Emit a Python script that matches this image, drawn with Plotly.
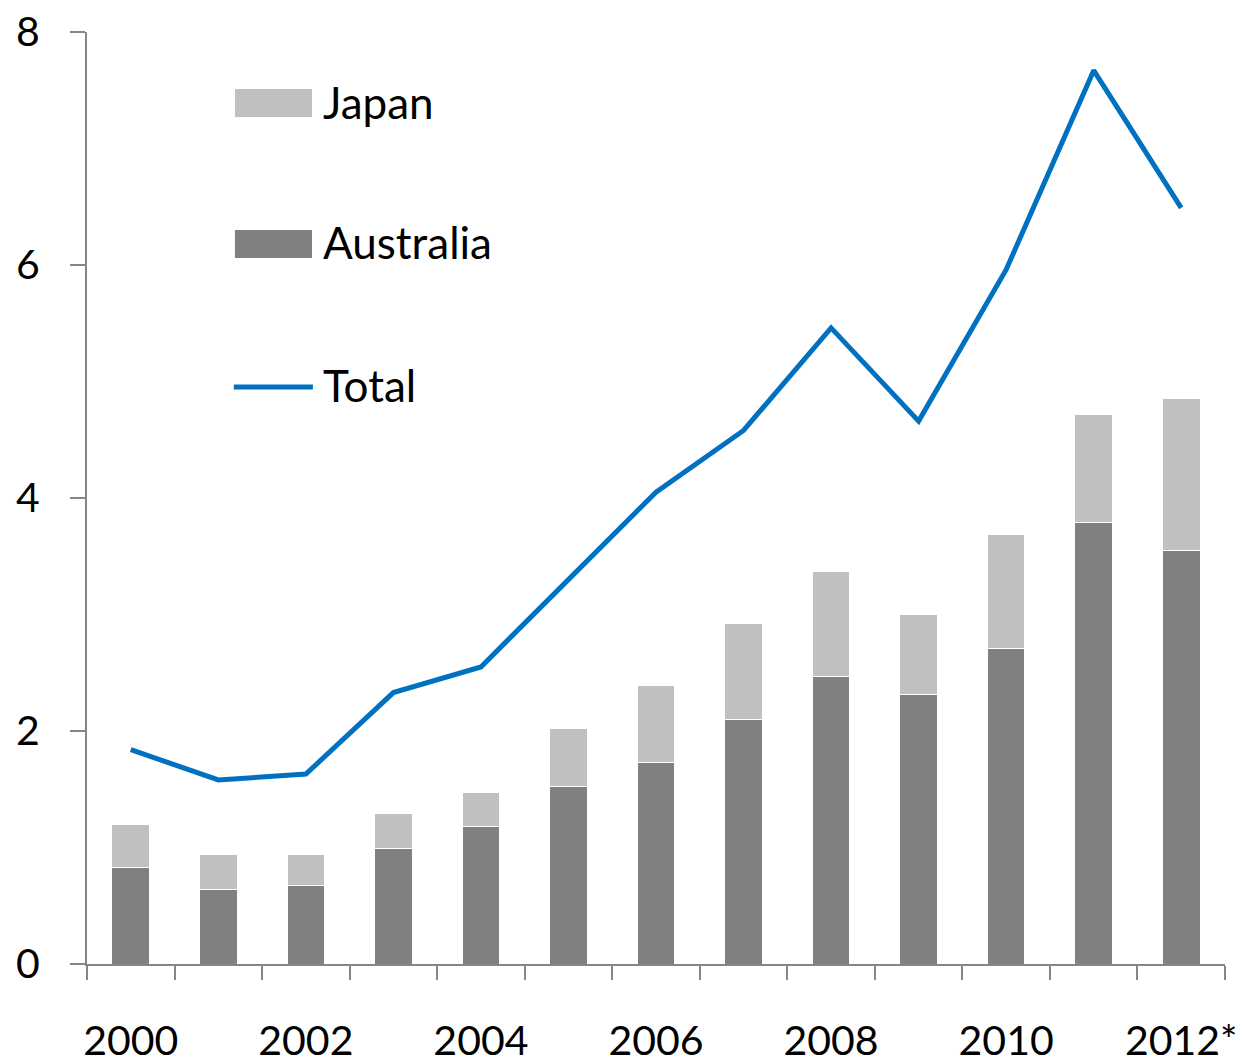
import plotly.graph_objects as go

# Years on the category axis (index positions 0..12)
years = ["2000", "2001", "2002", "2003", "2004", "2005", "2006",
         "2007", "2008", "2009", "2010", "2011", "2012*"]
label_years = ["2000", "2002", "2004", "2006", "2008", "2010", "2012*"]

# Series values
australia = [0.83, 0.64, 0.67, 0.99, 1.18, 1.52, 1.73, 2.10, 2.47, 2.31, 2.71, 3.79, 3.55]
japan = [0.37, 0.30, 0.27, 0.30, 0.29, 0.50, 0.66, 0.82, 0.90, 0.69, 0.98, 0.93, 1.30]
total = [1.84, 1.58, 1.63, 2.33, 2.55, 3.30, 4.05, 4.58, 5.46, 4.66, 5.96, 7.67, 6.49]

y_ticks = [0, 2, 4, 6, 8]

AUS_COLOR = "#808080"
JPN_COLOR = "#C0C0C0"
TOTAL_COLOR = "#0070C0"
AXIS_COLOR = "#868686"
FONT = "Lato"
FSIZE = 41
LEGEND_FSIZE = 44

x = list(range(len(years)))
label_pos = [years.index(y) for y in label_years]
boundaries = [i - 0.5 for i in range(len(years) + 1)]

fig = go.Figure()
fig.add_trace(go.Bar(x=x, y=australia, name="Australia", width=0.43,
                     marker=dict(color=AUS_COLOR, line=dict(color="white", width=1)),
                     showlegend=False))
fig.add_trace(go.Bar(x=x, y=japan, name="Japan", width=0.43,
                     marker=dict(color=JPN_COLOR, line=dict(color="white", width=1)),
                     showlegend=False))
fig.add_trace(go.Scatter(x=x, y=total, name="Total", mode="lines",
                         line=dict(color=TOTAL_COLOR, width=5),
                         showlegend=False))

# Hand-drawn legend block in the upper-left of the plot area
legend_items = [
    ("Japan", "bar", JPN_COLOR, 0.9238, 0.9254),
    ("Australia", "bar", AUS_COLOR, 0.7726, 0.7747),
    ("Total", "line", TOTAL_COLOR, 0.6191, 0.6212),
]
shapes = []
annotations = []
for name, kind, color, ys, yt in legend_items:
    if kind == "bar":
        shapes.append(dict(type="rect", xref="paper", yref="paper",
                           x0=0.130, x1=0.1977, y0=ys - 0.015, y1=ys + 0.015,
                           fillcolor=color, line=dict(width=0)))
    else:
        shapes.append(dict(type="line", xref="paper", yref="paper",
                           x0=0.129, x1=0.1985, y0=ys, y1=ys,
                           line=dict(color=color, width=5)))
    annotations.append(dict(text=name, xref="paper", yref="paper",
                            x=0.2055, y=yt, xanchor="left", yanchor="middle",
                            showarrow=False,
                            font=dict(family=FONT, size=LEGEND_FSIZE, color="black")))

fig.update_layout(
    width=1244, height=1063,
    margin=dict(l=87, r=19, t=32, b=99, autoexpand=False),
    paper_bgcolor="white", plot_bgcolor="white",
    barmode="stack",
    shapes=shapes, annotations=annotations,
    font=dict(family=FONT, size=FSIZE, color="black"),
)
fig.update_xaxes(
    automargin=False,
    range=[-0.5, len(years) - 0.5],
    tickmode="array", tickvals=label_pos, ticktext=label_years,
    ticks="", showgrid=False, zeroline=False,
    showline=True, linecolor=AXIS_COLOR, linewidth=2,
    tickfont=dict(family=FONT, size=FSIZE, color="black"),
    ticklabelstandoff=40,
    minor=dict(tickmode="array", tickvals=boundaries, ticks="outside",
               ticklen=14, tickwidth=2, tickcolor=AXIS_COLOR, showgrid=False),
)
fig.update_yaxes(
    automargin=False,
    range=[0, 8], tickmode="array", tickvals=y_ticks,
    ticks="outside", ticklen=15, tickwidth=2, tickcolor=AXIS_COLOR,
    showgrid=False, zeroline=False,
    showline=True, linecolor=AXIS_COLOR, linewidth=2,
    tickfont=dict(family=FONT, size=FSIZE, color="black"),
    ticklabelstandoff=22,
)

fig.write_html("out.html")
